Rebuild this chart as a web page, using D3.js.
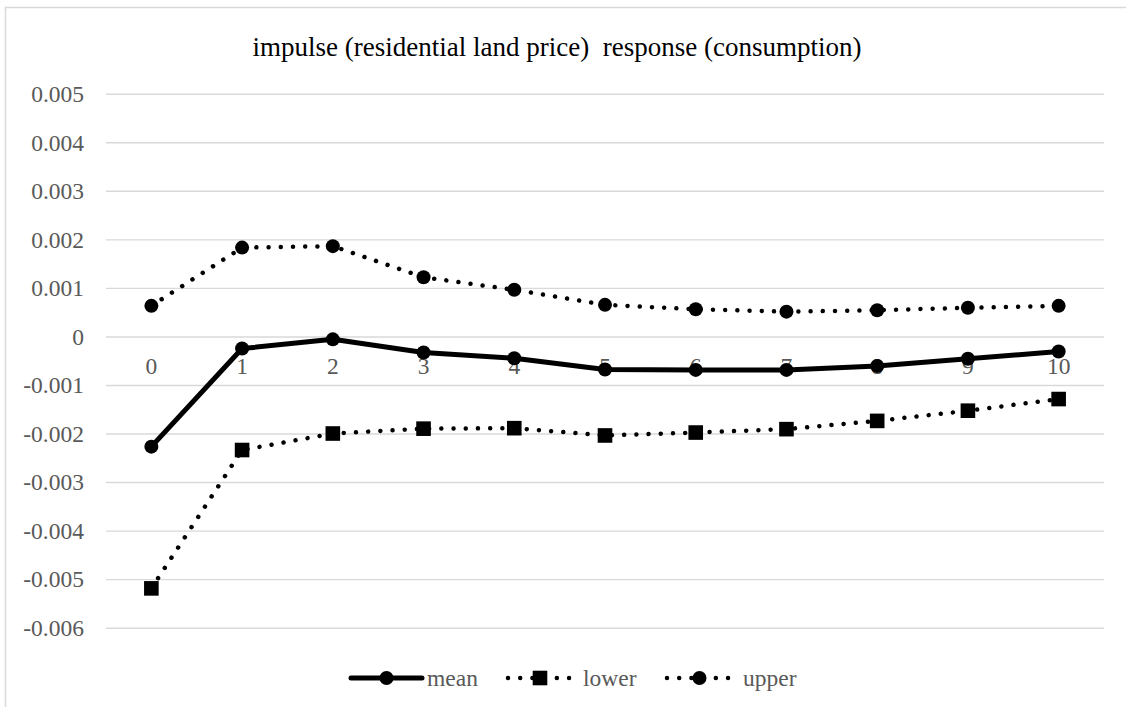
<!DOCTYPE html>
<html>
<head>
<meta charset="utf-8">
<script src="https://cdn.jsdelivr.net/npm/d3@7"></script>
<style>
  html, body { margin: 0; padding: 0; background: #fff; }
  svg { display: block; }
  svg text { font-family: "Liberation Serif", "Times New Roman", serif; }
</style>
</head>
<body>
<svg id="chart" width="1126" height="707"></svg>
<script>
// Impulse response of consumption to a residential land price shock
const periods = ["0", "1", "2", "3", "4", "5", "6", "7", "8", "9", "10"];
const meanValues  = [-0.00227, -0.00025, -0.00006, -0.00033, -0.00045, -0.00068, -0.00069, -0.00069, -0.00061, -0.00046, -0.00031];
const lowerValues = [-0.00519, -0.00234, -0.00200, -0.00190, -0.00189, -0.00204, -0.00198, -0.00191, -0.00174, -0.00153, -0.00129];
const upperValues = [0.00063, 0.00183, 0.00186, 0.00122, 0.00096, 0.00065, 0.00056, 0.00051, 0.00054, 0.00059, 0.00063];
const yTicks = [0.005, 0.004, 0.003, 0.002, 0.001, 0, -0.001, -0.002, -0.003, -0.004, -0.005, -0.006];
const titleText = "impulse (residential land price)  response (consumption)";

const series = [
  { name: "mean",  values: meanValues,  marker: "circle", dotted: false },
  { name: "lower", values: lowerValues, marker: "square", dotted: true },
  { name: "upper", values: upperValues, marker: "circle", dotted: true }
];

const svg = d3.select("#chart");
const plot = { left: 106, right: 1104, top: 93.7, bottom: 627.7 };
const serif = '"Liberation Serif", "Times New Roman", serif';

// outer chart frame
svg.append("rect")
  .attr("x", 5.5).attr("y", 7.5)
  .attr("width", 1140).attr("height", 720)
  .attr("fill", "#fff")
  .attr("stroke", "#d9d9d9").attr("stroke-width", 1.5);

const x = d3.scaleBand().domain(periods).range([plot.left, plot.right]).padding(0);
const y = d3.scaleLinear().domain([-0.006, 0.005]).range([plot.bottom, plot.top]);
const cx = p => x(p) + x.bandwidth() / 2;

// title
svg.append("text")
  .attr("x", 557)
  .attr("y", 56)
  .attr("text-anchor", "middle")
  .style("font-family", serif)
  .style("font-size", "27px")
  .style("white-space", "pre")
  .attr("xml:space", "preserve")
  .attr("fill", "#000")
  .text(titleText);

// gridlines + y tick labels
const yAxis = d3.axisLeft(y)
  .tickValues(yTicks)
  .tickSize(-(plot.right - plot.left))
  .tickPadding(22)
  .tickFormat(d => d === 0 ? "0" : d3.format(".3f")(d).replace("−", "-"));

const gy = svg.append("g")
  .attr("transform", `translate(${plot.left},0)`)
  .call(yAxis);
gy.select(".domain").remove();
gy.selectAll(".tick line").attr("stroke", "#d9d9d9").attr("stroke-width", 1.4);
gy.selectAll(".tick text")
  .attr("fill", "#595959")
  .style("font-family", serif)
  .style("font-size", "23.5px")
  .attr("dy", "0.33em");

// category labels sit just below the zero line
const xAxis = d3.axisBottom(x).tickSize(0).tickPadding(21);
const gx = svg.append("g")
  .attr("transform", `translate(0,${y(0)})`)
  .call(xAxis);
gx.select(".domain").remove();
gx.selectAll(".tick text")
  .attr("fill", "#595959")
  .style("font-family", serif)
  .style("font-size", "23.5px")
  .attr("dy", "0.71em");

const line = d3.line().x((d, i) => cx(periods[i])).y(d => y(d));

function styleStroke(sel, dotted) {
  sel.attr("fill", "none")
    .attr("stroke", "#000")
    .attr("stroke-width", dotted ? 4.5 : 5)
    .attr("stroke-linejoin", "round")
    .attr("stroke-linecap", "round");
  if (dotted) sel.attr("stroke-dasharray", "0.01 12.2");
}

function drawMarker(g, type, px, py) {
  if (type === "circle") {
    g.append("circle").attr("cx", px).attr("cy", py).attr("r", 7).attr("fill", "#000");
  } else {
    g.append("rect").attr("x", px - 7.3).attr("y", py - 7.3)
      .attr("width", 14.6).attr("height", 14.6).attr("fill", "#000");
  }
}

// series lines and markers
series.forEach(s => {
  const g = svg.append("g").attr("class", "series-" + s.name);
  g.append("path").datum(s.values).attr("d", line).call(styleStroke, s.dotted);
  s.values.forEach((v, i) => drawMarker(g, s.marker, cx(periods[i]), y(v)));
});

// legend
const legendY = 678;
const legendItems = [
  { s: series[0], x0: 351, x1: 422, tx: 427 },
  { s: series[1], x0: 508, x1: 572, tx: 583 },
  { s: series[2], x0: 667, x1: 732, tx: 743 }
];
legendItems.forEach(it => {
  const g = svg.append("g");
  g.append("path")
    .attr("d", d3.line()([[it.x0, legendY], [it.x1, legendY]]))
    .call(styleStroke, it.s.dotted);
  drawMarker(g, it.s.marker, (it.x0 + it.x1) / 2, legendY);
  g.append("text")
    .attr("x", it.tx).attr("y", legendY + 8)
    .style("font-family", serif)
    .style("font-size", "23.5px")
    .attr("fill", "#595959")
    .text(it.s.name);
});
</script>
</body>
</html>
